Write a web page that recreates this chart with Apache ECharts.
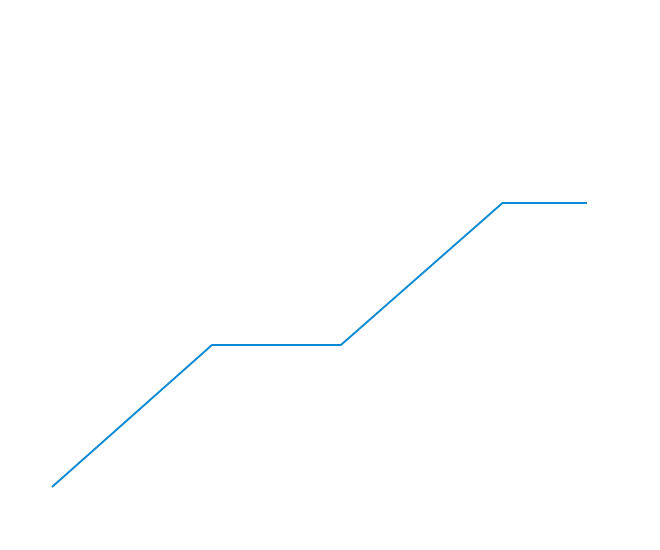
<!DOCTYPE html>
<html>
<head>
<meta charset="utf-8">
<script src="https://cdn.jsdelivr.net/npm/echarts@6/dist/echarts.min.js"></script>
<style>
	html, body { margin: 0; padding: 0; background: #fff; }
	#main { width: 660px; height: 550px; }
</style>
</head>
<body>
<div id="main"></div>
<script>
// 折线数据 (x 为数值轴)
var xValues = [0, 29.9, 54, 84.2, 100];
var yValues = [0, 1, 1, 2, 2];

var chart = echarts.init(document.getElementById('main'));

var points = [];
for (var i = 0; i < xValues.length; i++) {
	points.push([xValues[i], yValues[i]]);
}

var option = {
	animation: false,
	grid: {
		left: 52,
		right: 73,
		top: 203,
		bottom: 63
	},
	xAxis: {
		type: 'value',
		min: 0,
		max: 100,
		show: false
	},
	yAxis: {
		type: 'value',
		min: 0,
		max: 2,
		show: false
	},
	series: [{
		type: 'line',
		data: points,
		symbol: 'none',
		lineStyle: {
			color: '#0a8ad2',
			width: 2
		}
	}]
};

chart.setOption(option);
</script>
</body>
</html>
